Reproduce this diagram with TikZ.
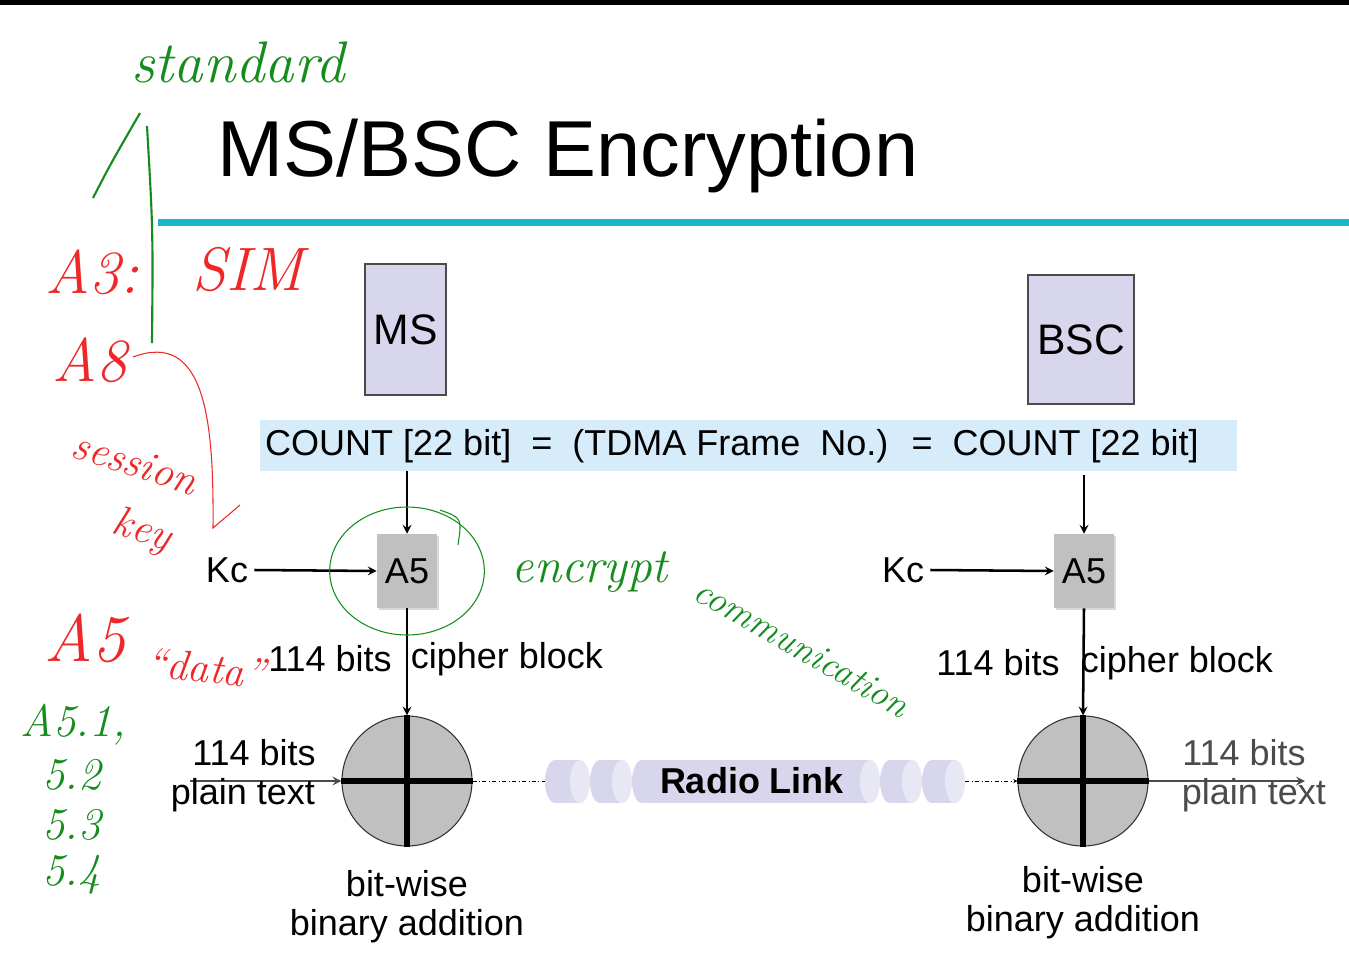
\documentclass[tikz,border=0pt]{standalone}
\usepackage{fontspec}
\setmainfont{Liberation Sans}
\newfontfamily\handfont{Latin Modern Roman}
\usetikzlibrary{shadows}
\definecolor{lav}{RGB}{216,214,236}
\definecolor{lavlight}{RGB}{232,231,244}
\definecolor{countblue}{RGB}{214,236,250}
\definecolor{rule}{RGB}{22,184,206}
\definecolor{algo}{RGB}{192,192,192}
\definecolor{penred}{RGB}{238,40,40}
\definecolor{pengreen}{RGB}{22,140,30}
\definecolor{darkgray}{RGB}{75,75,75}
\begin{document}
\begin{tikzpicture}[x=0.75pt,y=-0.75pt,>=stealth,
  txt/.style={font=\fontsize{27}{31}\selectfont,inner sep=0pt},
  dev/.style={draw=darkgray,fill=lav,thick,font=\fontsize{32}{36}\selectfont},
  algbox/.style={fill=algo,minimum width=45pt,minimum height=55.5pt,txt,
    drop shadow={opacity=0.3,shadow xshift=1.5pt,shadow yshift=-1.5pt}},
  xorc/.style={circle,draw=black!80,fill=algo,thick,minimum size=97.5pt,inner sep=0pt},
  arr/.style={->,line width=1.9pt},
  red hand/.style={penred,font=\handfont\itshape\fontsize{#1}{#1}\selectfont,inner sep=0pt},
  green hand/.style={pengreen,font=\handfont\itshape\fontsize{#1}{#1}\selectfont,inner sep=0pt}]
\useasboundingbox (0,0) rectangle (1349,953);
\fill (0,0) rectangle (1349,5);
\node[anchor=base west,inner sep=0pt,font=\fontsize{59.5}{66}\selectfont] (title) at (217,176) {MS/BSC Encryption};
\fill[rule] (158,219) rectangle (1349,226);
% devices
\node[dev,minimum width=60.75pt,minimum height=98.25pt] (ms) at (405.5,329.5) {MS};
\node[dev,minimum width=79.5pt,minimum height=96.75pt] (bsc) at (1081,339.5) {BSC};
\node[fill=countblue,minimum width=732.75pt,minimum height=38.25pt] (count) at (748.5,445.5) {};
\node[txt] (countt) at (732,446) {COUNT [22 bit] \ = \ (TDMA Frame \ No.) \ = \ COUNT [22 bit]};
% A5 and xor
\node[algbox] (a5l) at (407,571) {A5};
\node[algbox] (a5r) at (1084,571) {A5};
\node[xorc] (xl) at (407,781) {};
\node[xorc] (xr) at (1083,781) {};
\foreach \c in {xl,xr}
  \draw[line width=3.8pt] (\c.north) -- (\c.south) (\c.west) -- (\c.east);
\draw[arr] (count.south -| a5l) -- (a5l.north);
\draw[arr] (count.south -| a5r) ++(0,4) -- (a5r.north);
\node[txt] (kcl) at (227,570) {Kc};
\node[txt] (kcr) at (903,570) {Kc};
\draw[arr] (kcl.east) ++(6,0) -- (a5l.west);
\draw[arr] (kcr.east) ++(6,0) -- (a5r.west);
\draw[arr] (a5l.south) -- (xl.north);
\draw[arr] (a5r.south) -- (xr.north);
\node[txt] (bitsl) at (330,659) {114 bits};
\node[txt] (cipl) at (507,659) {cipher block};
\node[txt] (bitsr) at (998,663) {114 bits};
\node[txt] (cipr) at (1177,663) {cipher block};
% plain text in and out
\coordinate (inl) at (190,781);
\coordinate (outr) at (1305,781);
\draw[->,darkgray,line width=1.9pt] (inl) -- (xl.west);
\draw[->,darkgray,line width=1.9pt] (xr.east) -- (outr);
\node[txt] (ptl1) at (254,753) {114 bits};
\node[txt] (ptl2) at (243,795) {plain text};
\node[txt,darkgray] (ptr1) at (1244,753) {114 bits};
\node[txt,darkgray] (ptr2) at (1254,795) {plain text};
\node[txt] (addl1) at (407,884) {bit-wise};
\node[txt] (addl2) at (407,926) {binary addition};
\node[txt] (addr1) at (1083,880) {bit-wise};
\node[txt] (addr2) at (1083,922) {binary addition};
% radio link
\foreach \a/\b in {545/590,590/632,632/880,880/922,922/965}{
  \fill[lav] (\a+10,760) rectangle (\b-10,803);
  \fill[lav] (\a+10,781.5) ellipse [x radius=7.5pt,y radius=16.1pt];
  \fill[lavlight] (\b-10,781.5) ellipse [x radius=7.5pt,y radius=16.1pt];
}
\coordinate (rla) at (545,781);
\coordinate (rlb) at (965,781);
\node[txt,font=\bfseries\fontsize{27}{31}\selectfont] (radio) at (752,781) {Radio Link};
\draw[dash dot] (xl.east) -- (rla);
\draw[dash dot,->] (rlb) -- (xr.west);
% pen notes
\node[green hand=44] (std) at (238,62) {standard};
\draw[pengreen,line width=1.6pt] (93,198) .. controls (110,165) .. (140,113);
\draw[pengreen,line width=1.6pt] (147,126) .. controls (153,230) .. (152,343);
\node[red hand=46] (a3) at (92,272) {A3:};
\node[red hand=46] (sim) at (248,270) {SIM};
\node[red hand=46] (a8) at (90,360) {A8};
\draw[penred,thick] (133,357) .. controls (205,330) and (214,420) .. (213,528) -- (240,505);
\node[red hand=32,rotate=-18] (sess) at (135,463) {session};
\node[red hand=32,rotate=-18] (key) at (142,532) {key};
\node[red hand=50] (a5n) at (85,638) {A5};
\node[red hand=32,rotate=-6] (data) at (206,668) {“data”};
\node[green hand=34,anchor=west] (v1) at (20,725) {A5.1,};
\node[green hand=34,anchor=west] (v2) at (42,775) {5.2};
\node[green hand=34,anchor=west] (v3) at (42,825) {5.3};
\node[green hand=34,anchor=west] (v4) at (42,875) {5.4};
\draw[pengreen,thick] (a5l.center) ellipse [x radius=58pt,y radius=48pt];
\draw[pengreen,thick] (440,510) .. controls (462,518) .. (458,545);
\node[green hand=37] (enc) at (590,572) {encrypt};
\node[green hand=28,rotate=-30] (comm) at (802,648) {communication};
\end{tikzpicture}
\end{document}
